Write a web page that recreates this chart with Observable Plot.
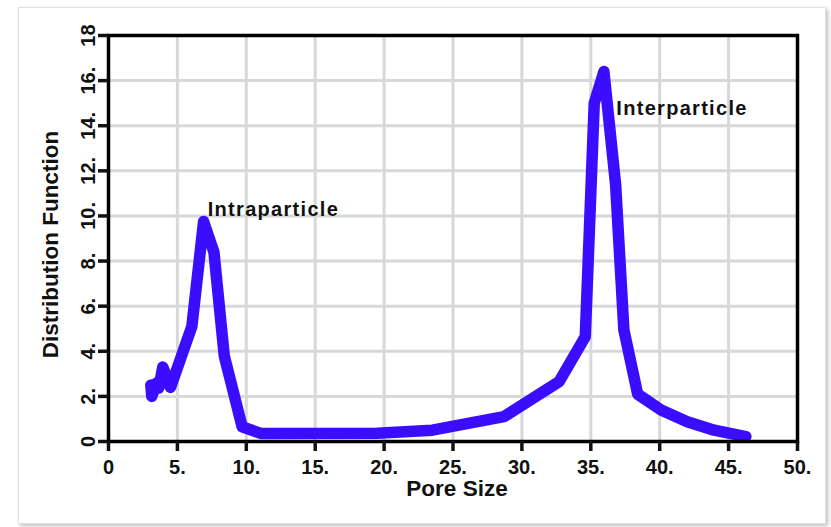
<!DOCTYPE html>
<html>
<head>
<meta charset="utf-8">
<script src="https://cdn.jsdelivr.net/npm/d3@7"></script>
<script src="https://cdn.jsdelivr.net/npm/@observablehq/plot@0.6"></script>
<style>
  html, body { margin: 0; padding: 0; background: #fff; }
  #wrap { position: relative; width: 831px; height: 527px; overflow: hidden; }
  #card { position: absolute; left: 18px; top: 7px; width: 806px; height: 515px;
          border: 1px solid #e2e2e2; box-shadow: 2px 2px 4px rgba(0,0,0,0.25); background: #fff; }
  #chart { position: absolute; left: 0; top: 0; }
</style>
</head>
<body>
<div id="wrap"><div id="card"></div><div id="chart"></div></div>
<script>
// Data
const poreSize = [3.07, 3.14, 3.5, 3.65, 3.94, 4.5, 6.05, 6.9, 7.65, 8.4, 9.7, 11.1, 19.5, 23.5, 28.7, 32.7, 34.6, 35.25, 35.95, 36.8, 37.4, 38.4, 40.1, 42.0, 43.95, 46.25];
const distribution = [2.5, 2.0, 2.6, 2.37, 3.3, 2.4, 5.1, 9.75, 8.4, 3.8, 0.65, 0.35, 0.37, 0.5, 1.1, 2.65, 4.65, 15.0, 16.4, 11.4, 4.95, 2.1, 1.4, 0.88, 0.5, 0.22];
const xTicks = [0, 5, 10, 15, 20, 25, 30, 35, 40, 45, 50];
const yTicks = [0, 2, 4, 6, 8, 10, 12, 14, 16, 18];
const annLabels = ["Intraparticle", "Interparticle"];
const annX = [7.2, 36.85];
const annY = [10.3, 14.75];
const xTitle = "Pore Size";
const yTitle = "Distribution Function";

const data = poreSize.map((x, i) => ({x, y: distribution[i]}));
const ann = annLabels.map((t, i) => ({t, x: annX[i], y: annY[i]}));

const fmtX = d => d === 0 ? "0" : d + ".";
const fmtY = d => (d === 0 || d === 18) ? String(d) : d + ".";

const chart = Plot.plot({
  width: 831,
  height: 527,
  marginLeft: 108,
  marginRight: 34,
  marginTop: 35,
  marginBottom: 86,
  style: { fontFamily: "Liberation Sans, Arial, sans-serif", fontWeight: "bold", color: "#111", background: "transparent" },
  x: { domain: [0, 50] },
  y: { domain: [0, 18] },
  marks: [
    Plot.gridX(xTicks, { stroke: "#d8d8d8", strokeOpacity: 1, strokeWidth: 3 }),
    Plot.gridY(yTicks, { stroke: "#d8d8d8", strokeOpacity: 1, strokeWidth: 3 }),
    Plot.line(data, { x: "x", y: "y", stroke: "#3a0dff", strokeWidth: 11.5, strokeLinejoin: "round", strokeLinecap: "round" }),
    Plot.frame({ stroke: "#000", strokeWidth: 3.5 }),
    Plot.axisX(xTicks, { tickFormat: fmtX, tickSize: 10, tickPadding: 8, strokeWidth: 3.5, fontSize: 20, fontWeight: "bold", label: null }),
    Plot.axisY(yTicks, { tickFormat: fmtY, tickSize: 10, tickPadding: 4, strokeWidth: 3.5, fontSize: 20, fontWeight: "bold", tickRotate: -90, label: null }),
    Plot.text(ann, { x: "x", y: "y", text: "t", textAnchor: "start", fontSize: 20, fontWeight: "bold", fill: "#111" }),
    Plot.text([xTitle], { frameAnchor: "bottom", dx: 4, dy: 54, fontSize: 22.5, fontWeight: "bold", fill: "#111" }),
    Plot.text([yTitle], { frameAnchor: "left", textAnchor: "middle", dx: -58, dy: 6, rotate: -90, fontSize: 22.5, fontWeight: "bold", fill: "#111" })
  ]
});
d3.select(chart).selectAll("text").filter(function () { return annLabels.includes(this.textContent); })
  .style("letter-spacing", "1.3px");
document.getElementById("chart").appendChild(chart);
</script>
</body>
</html>
